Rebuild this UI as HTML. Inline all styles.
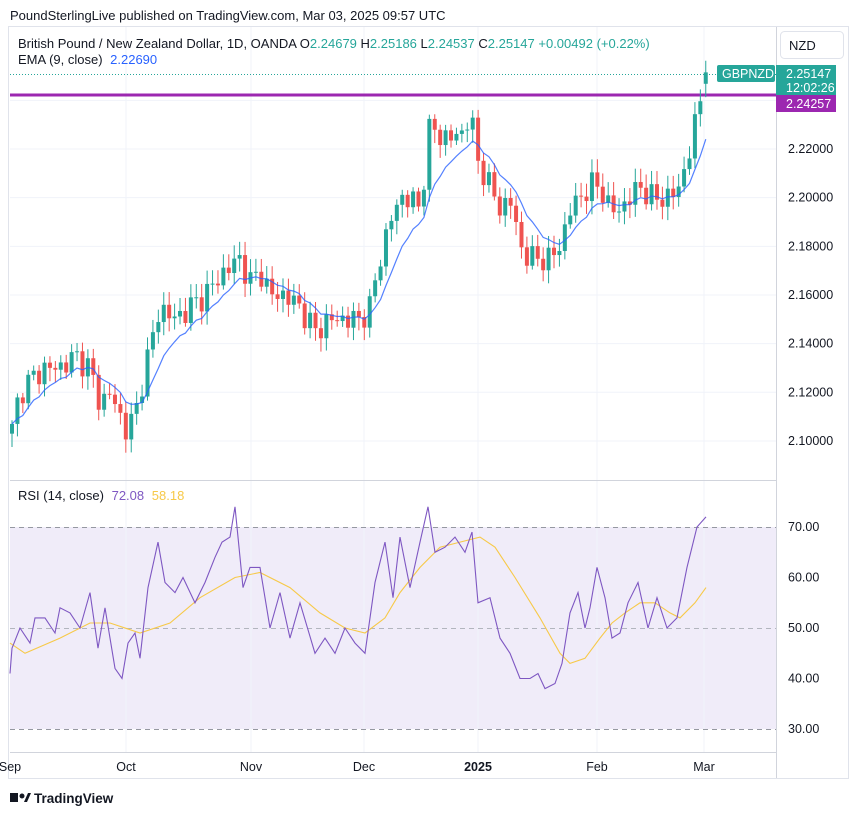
<!DOCTYPE html>
<html><head><meta charset="utf-8"><style>
body{margin:0;background:#fff;font-family:"Liberation Sans",sans-serif;}
svg text{font-family:"Liberation Sans",sans-serif;}
</style></head><body>
<svg id="s" width="858" height="815" xmlns="http://www.w3.org/2000/svg">
<rect width="858" height="815" fill="#fff"/>
<text x="10" y="20" font-size="13" fill="#131722">PoundSterlingLive published on TradingView.com, Mar 03, 2025 09:57 UTC</text>
<rect x="8.5" y="26.5" width="840" height="752" fill="none" stroke="#e0e3eb"/>
<rect x="10" y="527" width="766" height="202" fill="#f0ecf9"/>
<g id="grid" stroke="#f0f3fa" stroke-width="1"></g>
<line x1="10" x2="776" y1="480.5" y2="480.5" stroke="#d1d4dc"/>
<line x1="10" x2="776" y1="752.5" y2="752.5" stroke="#d1d4dc"/>
<line x1="776.5" x2="776.5" y1="27" y2="778" stroke="#d1d4dc"/>
<g stroke="#9598a1" stroke-dasharray="5,4" stroke-width="1">
<line x1="10" x2="776" y1="527.5" y2="527.5"/><line x1="10" x2="776" y1="628.5" y2="628.5" stroke="#b2b5be"/><line x1="10" x2="776" y1="729.5" y2="729.5"/></g>
<line x1="10" x2="776" y1="74.5" y2="74.5" stroke="#26a69a" stroke-dasharray="1,2"/>
<line x1="10" x2="776" y1="95" y2="95" stroke="#9c27b0" stroke-width="3"/>
<g id="c"></g>
<text x="18" y="48" font-size="13" fill="#131722">British Pound / New Zealand Dollar, 1D, OANDA  O<tspan fill="#26a69a">2.24679</tspan> H<tspan fill="#26a69a">2.25186</tspan> L<tspan fill="#26a69a">2.24537</tspan> C<tspan fill="#26a69a">2.25147</tspan> <tspan fill="#26a69a">+0.00492 (+0.22%)</tspan></text>
<text x="18" y="64" font-size="13" fill="#131722">EMA (9, close) <tspan fill="#2962ff" dx="4">2.22690</tspan></text>
<text x="18" y="500" font-size="13" fill="#131722">RSI (14, close) <tspan fill="#7e57c2" dx="4">72.08</tspan> <tspan fill="#f7c948" dx="4">58.18</tspan></text>
<rect x="780.5" y="31.5" width="63" height="27" rx="4" fill="#fff" stroke="#e0e3eb"/>
<text x="789" y="50" font-size="13" fill="#131722">NZD</text>
<rect x="717" y="65" width="58" height="17" rx="2" fill="#26a69a"/>
<text x="722" y="78" font-size="12.5" fill="#fff">GBPNZD</text>
<rect x="776" y="65" width="60" height="30" fill="#26a69a"/>
<text x="786" y="78" font-size="12.5" fill="#fff">2.25147</text>
<text x="786" y="92" font-size="12.5" fill="#fff">12:02:26</text>
<rect x="776" y="95" width="60" height="17" fill="#9c27b0"/>
<text x="786" y="108" font-size="12.5" fill="#fff">2.24257</text>
<g font-size="12.5" fill="#131722" id="lbl"></g>
<g font-size="12.5" fill="#131722">
<text x="10" y="771" text-anchor="middle">Sep</text>
<text x="126" y="771" text-anchor="middle">Oct</text>
<text x="251" y="771" text-anchor="middle">Nov</text>
<text x="364" y="771" text-anchor="middle">Dec</text>
<text x="478" y="771" text-anchor="middle" font-weight="bold">2025</text>
<text x="597" y="771" text-anchor="middle">Feb</text>
<text x="704" y="771" text-anchor="middle">Mar</text>
</g>
<rect x="10" y="793" width="8" height="9" fill="#131722"/><circle cx="22" cy="796" r="2.5" fill="#131722"/><path d="M24 802 L28 793 L31 793 L27 802Z" fill="#131722"/>
<text x="34" y="803" font-size="13.5" font-weight="bold" fill="#131722">TradingView</text>
</svg>
<script>
var NS="http://www.w3.org/2000/svg";
function el(p,t,a){var e=document.createElementNS(NS,t);for(var k in a)e.setAttribute(k,a[k]);document.getElementById(p).appendChild(e);return e;}
function Y(p){return 149+(2.22-p)*2433;}
function RY(r){return 527+(70-r)*5.05;}
[2.22,2.2,2.18,2.16,2.14,2.12,2.1,2.24].forEach(function(p){el("grid","line",{x1:10,x2:776,y1:Y(p),y2:Y(p)});});
[126,251,364,478,597,704].forEach(function(x){el("grid","line",{x1:x,x2:x,y1:27,y2:752});});
[2.22,2.2,2.18,2.16,2.14,2.12,2.1].forEach(function(p){var t=el("lbl","text",{x:788,y:Y(p)+4});t.textContent=p.toFixed(5);});
[70,60,50,40,30].forEach(function(r){var t=el("lbl","text",{x:788,y:RY(r)+4});t.textContent=r.toFixed(2);});
function interp(pts,x){for(var i=1;i<pts.length;i++){if(x<=pts[i][0]){var a=pts[i-1],b=pts[i];return a[1]+(b[1]-a[1])*(x-a[0])/(b[0]-a[0]);}}return pts[pts.length-1][1];}
var P=[[12,2.105],[20,2.12],[30,2.125],[45,2.13],[60,2.13],[75,2.135],[90,2.13],[100,2.115],[110,2.12],[120,2.11],[126,2.105],[135,2.11],[145,2.13],[160,2.155],[175,2.15],[190,2.155],[205,2.16],[215,2.165],[225,2.17],[240,2.175],[250,2.165],[260,2.17],[270,2.16],[285,2.16],[300,2.155],[315,2.145],[330,2.15],[345,2.15],[360,2.15],[370,2.155],[380,2.175],[390,2.19],[400,2.2],[410,2.2],[420,2.195],[430,2.23],[440,2.225],[450,2.225],[460,2.225],[470,2.235],[478,2.215],[490,2.205],[500,2.195],[510,2.2],[520,2.18],[530,2.175],[540,2.175],[550,2.175],[560,2.18],[570,2.195],[580,2.2],[590,2.205],[600,2.205],[610,2.195],[620,2.195],[630,2.2],[640,2.205],[650,2.2],[660,2.2],[670,2.2],[680,2.205],[690,2.22],[700,2.24],[706,2.2515]];
var sp=5.42,n=Math.round((706-12)/sp)+1,prev=2.103,closes=[],xs=[];
for(var i=0;i<n;i++){var x=12+i*sp;xs.push(x);var c=interp(P,x)+Math.sin(i*2.3)*0.004+Math.cos(i*1.7)*0.002;if(i==n-1)c=2.2515;closes.push(c);
var o=(i==n-1)?2.2468:prev;var hi=Math.max(o,c)+0.0015+Math.abs(Math.sin(i*3.1))*0.004,lo=Math.min(o,c)-0.0015-Math.abs(Math.cos(i*2.7))*0.004;
var col=c>=o?"#26a69a":"#ef5350";
el("c","line",{x1:x,x2:x,y1:Y(hi),y2:Y(lo),stroke:col,"stroke-width":1});
var t=Y(Math.max(o,c)),h=Math.max(1,Y(Math.min(o,c))-t);
el("c","rect",{x:x-2,y:t,width:4,height:h,fill:col});prev=c;}
var e=closes[0],k=2/10,d="";
for(var i=0;i<n;i++){e=closes[i]*k+e*(1-k);d+=(i?"L":"M")+xs[i].toFixed(1)+" "+Y(e).toFixed(1);}
el("c","path",{d:d,fill:"none",stroke:"#2962ff","stroke-width":1.2,opacity:0.8});
var R=[[10,41],[12,46],[20,50],[30,47],[35,52],[45,52],[55,49],[60,54],[70,53],[80,50],[90,57],[98,46],[105,54],[115,42],[122,40],[128,47],[135,49],[140,44],[148,58],[158,67],[165,59],[175,57],[183,60],[195,55],[205,59],[215,64],[222,67],[230,68],[235,74],[243,58],[250,62],[260,62],[270,50],[280,57],[290,48],[300,55],[315,45],[325,48],[335,45],[345,50],[355,47],[365,45],[375,59],[385,67],[393,56],[400,68],[410,58],[420,67],[428,74],[435,65],[445,66],[455,68],[465,65],[472,69],[478,55],[490,56],[500,48],[510,45],[520,40],[530,40],[538,41],[545,38],[555,39],[562,43],[570,53],[578,57],[585,50],[590,54],[597,62],[605,56],[612,48],[620,49],[628,55],[638,59],[648,50],[657,56],[667,50],[677,52],[687,62],[697,70],[706,72]];
var M=[[10,47],[25,45],[60,48],[90,51],[110,51],[140,49],[170,51],[200,56],[235,60],[260,61],[290,58],[320,53],[345,50],[365,49],[385,52],[400,57],[420,62],[440,66],[460,67],[480,68],[495,66],[515,60],[540,52],[560,45],[570,43],[585,44],[600,48],[612,51],[625,53],[640,55],[655,55],[670,53],[680,52],[695,55],[706,58]];
function pl(a,c){var s="";a.forEach(function(p,i){s+=(i?"L":"M")+p[0]+" "+RY(p[1]).toFixed(1);});el("c","path",{d:s,fill:"none",stroke:c,"stroke-width":1.1});}
pl(M,"#f7c948");pl(R,"#7e57c2");
</script>
</body></html>
